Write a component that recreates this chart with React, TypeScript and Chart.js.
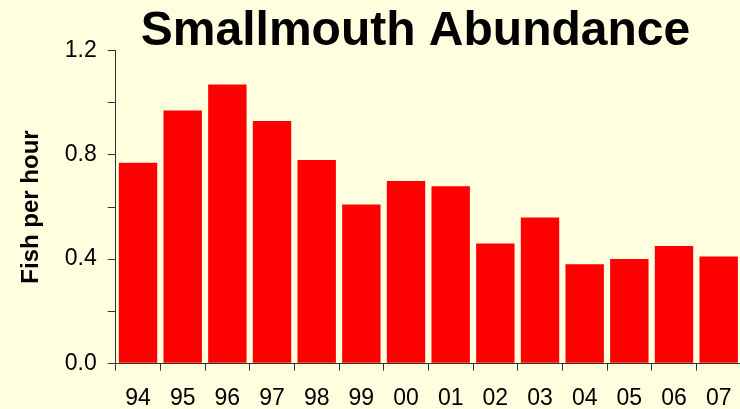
import React, { useEffect, useRef } from "react";
import { Chart, registerables } from "chart.js";

Chart.register(...registerables);

const years = ["94", "95", "96", "97", "98", "99", "00", "01", "02", "03", "04", "05", "06", "07"];
const fishPerHour = [0.77, 0.97, 1.07, 0.93, 0.78, 0.61, 0.70, 0.68, 0.46, 0.56, 0.38, 0.40, 0.45, 0.41];
const titleText = "Smallmouth Abundance";
const yTitleText = "Fish per hour";

const BG = "#FFFFE0";
const AXIS = "#333333";
const FONT = "Arial, 'Liberation Sans', sans-serif";

export default function App() {
  const ref = useRef<HTMLCanvasElement | null>(null);

  useEffect(() => {
    if (!ref.current) return;
    const chart = new Chart(ref.current, {
      type: "bar",
      data: {
        labels: years,
        datasets: [
          {
            data: fishPerHour,
            backgroundColor: "#FF0000",
            borderWidth: 0,
            barPercentage: 0.86,
            categoryPercentage: 1,
          },
        ],
      },
      options: {
        responsive: false,
        animation: false,
        devicePixelRatio: 1,
        layout: { padding: 0 },
        plugins: {
          legend: { display: false },
          tooltip: { enabled: false },
          title: {
            display: true,
            text: titleText,
            color: "#000000",
            font: { family: FONT, size: 48, weight: "bold", lineHeight: 1 },
            padding: { top: 8, bottom: -5.3 },
          },
        },
        scales: {
          x: {
            offset: true,
            grid: {
              display: true,
              drawOnChartArea: false,
              drawTicks: true,
              tickLength: 7.4,
              color: AXIS,
              tickColor: AXIS,
              offset: true,
            },
            border: { display: true, color: AXIS, width: 1 },
            ticks: {
              color: "#000000",
              padding: 13.8,
              maxRotation: 0,
              autoSkip: false,
              font: { family: FONT, size: 23 },
            },
            afterFit: (s: any) => {
              s.height = 45.7;
            },
          },
          y: {
            min: 0,
            max: 1.2,
            grid: {
              display: true,
              drawOnChartArea: false,
              drawTicks: true,
              tickLength: 8,
              color: AXIS,
              tickColor: AXIS,
            },
            border: { display: true, color: AXIS, width: 1 },
            ticks: {
              stepSize: 0.2,
              color: "#000000",
              padding: 11,
              font: { family: FONT, size: 23 },
              callback: (v: any) => {
                const n = Math.round(Number(v) * 10);
                return n % 4 === 0 ? (n / 10).toFixed(1) : "";
              },
            },
            title: {
              display: true,
              text: yTitleText,
              color: "#000000",
              padding: { top: 16.5, bottom: 0 },
              font: { family: FONT, size: 24, weight: "bold", lineHeight: 1.2 },
            },
            afterFit: (s: any) => {
              s.width = 115.7;
            },
          },
          spacer: {
            type: "linear",
            position: "right",
            display: true,
            grid: { display: false, drawTicks: false },
            border: { display: false },
            ticks: { display: false },
            afterFit: (s: any) => {
              s.width = 90;
            },
          },
        },
      },
    });
    return () => chart.destroy();
  }, []);

  return (
    <div
      style={{
        position: "fixed",
        left: 0,
        top: 0,
        width: 740,
        height: 409,
        overflow: "hidden",
        background: BG,
      }}
    >
      <canvas ref={ref} width={831} height={409} style={{ display: "block", width: 831, height: 409 }} />
    </div>
  );
}
